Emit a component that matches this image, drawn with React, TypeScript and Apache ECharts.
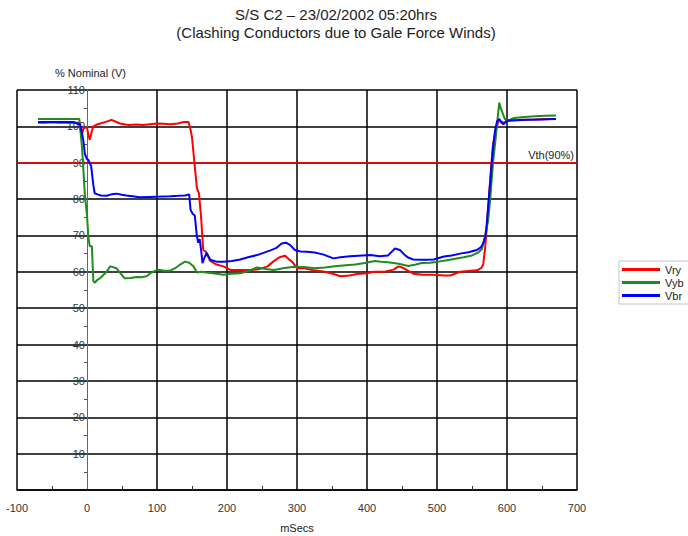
import React, { useEffect, useRef } from "react";
import * as echarts from "echarts";

const FONT = "'Liberation Sans', Arial, sans-serif";

const titleText = "S/S C2 \u2013 23/02/2002 05:20hrs";
const subtitleText = "(Clashing Conductors due to Gale Force Winds)";
const yAxisTitle = "% Nominal (V)";
const xAxisTitle = "mSecs";
const thresholdLabel = "Vth(90%)";
const thresholdValue = 90;
const seriesNames = ["Vry", "Vyb", "Vbr"];
const seriesColors = ["#ff0000", "#1e8c1e", "#0000ff"];
const xGridValues = [-100, 100, 200, 300, 400, 500, 600, 700];

// Vry (red)
const vryTimes = [
  -70, -60, -50, -40, -30, -20, -10, -8, -5, 0,
  2, 4, 7, 9, 14, 19, 28, 35, 42, 47,
  55, 61, 70, 80, 90, 100, 110, 119, 130, 138,
  145, 148, 150, 153, 157, 160, 163, 166, 170, 173,
  176, 185, 195, 205, 219, 235, 247, 258, 266, 275,
  283, 288, 293, 300, 310, 324, 340, 352, 362, 375,
  386, 400, 410, 425, 438, 445, 450, 457, 466, 480,
  495, 510, 519, 533, 545, 557, 563, 566, 569, 571,
  574, 577, 580, 584, 588, 592, 596, 600, 610, 620,
  640, 655, 670,
];
const vryValues = [
  101, 101, 101.1, 101, 101, 101, 101, 97.2, 99.5, 99.8,
  97.6, 96.3, 98.7, 100, 100.5, 100.8, 101.3, 101.8, 101.2, 100.8,
  100.5, 100.4, 100.5, 100.4, 100.6, 100.8, 100.7, 100.6, 100.8, 101.2,
  101.2, 99, 97, 91, 83, 81.5, 75, 66, 65.5, 64.2,
  63, 62, 61.5, 60.5, 60.5, 60.5, 60.8, 61.5, 62.8, 64,
  64.4, 63.5, 62.8, 61, 61, 60.4, 60, 59.4, 58.8, 59,
  59.4, 59.6, 60, 60, 60.6, 61.5, 61.2, 60.5, 59.5, 59.2,
  59.2, 59, 59, 60, 60.2, 60.4, 61, 62, 67, 72,
  80, 88, 95, 99, 101.5, 101.3, 101, 101.5, 101.7, 101.8,
  101.9, 102, 102,
];

// Vyb (green)
const vybTimes = [
  -70, -60, -50, -40, -30, -20, -11, -9, -7, -5,
  -3, 0, 2, 4, 7, 9, 11, 15, 19, 26,
  30, 33, 37, 42, 47, 54, 62, 71, 78, 85,
  92, 100, 104, 110, 119, 126, 133, 140, 146, 152,
  157, 163, 170, 180, 195, 207, 219, 230, 243, 255,
  267, 280, 296, 310, 325, 340, 354, 370, 383, 397,
  411, 420, 430, 445, 459, 470, 478, 490, 502, 514,
  526, 538, 550, 558, 564, 569, 573, 576, 580, 584,
  587, 589, 591, 594, 597, 600, 610, 625, 640, 655,
  670,
];
const vybValues = [
  102, 102, 102, 102, 102, 102, 102, 98, 94, 87.5,
  81, 75.6, 69.3, 67, 67, 57.5, 57, 57.8, 58.3, 59.6,
  60.5, 61.5, 61.3, 61, 59.8, 58.2, 58.3, 58.6, 58.5, 58.8,
  59.8, 60.5, 60.5, 60.3, 60.3, 61, 62, 62.8, 62.5, 61.5,
  59.8, 60, 59.8, 59.6, 59.2, 59.5, 59.6, 60.2, 61.2, 60.8,
  60.5, 61, 61.4, 61.3, 61, 61.2, 61.5, 61.8, 62, 62.4,
  63, 62.8, 62.6, 62.2, 61.6, 62, 62.4, 62.5, 62.8, 63.2,
  63.6, 64, 64.5, 65.2, 66.2, 70, 74, 80, 90, 97,
  103, 106.5, 105, 103.5, 102, 101.5, 102.3, 102.6, 102.8, 102.9,
  103,
];

// Vbr (blue)
const vbrTimes = [
  -70, -60, -50, -40, -30, -20, -10, -7, -5, -3,
  0, 2, 6, 9, 11, 15, 20, 28, 35, 42,
  50, 56, 65, 75, 90, 105, 119, 130, 140, 146,
  148, 151, 154, 157, 159, 161, 163, 165, 168, 171,
  176, 185, 195, 207, 219, 230, 243, 252, 262, 270,
  278, 284, 290, 297, 305, 314, 325, 337, 352, 362,
  376, 394, 405, 418, 430, 440, 447, 452, 458, 466,
  475, 485, 495, 510, 521, 533, 545, 557, 563, 566,
  569, 571, 574, 577, 580, 583, 586, 589, 592, 595,
  598, 602, 615, 630, 650, 670,
];
const vbrValues = [
  101.2, 101.2, 101.2, 101.2, 101.2, 101.2, 100.5, 98, 95.8, 92.4,
  91, 90.8, 89, 83.9, 81.6, 81.3, 81, 80.9, 81.3, 81.5,
  81.2, 81, 80.8, 80.5, 80.6, 80.7, 80.8, 80.9, 81, 81.3,
  77, 76, 75.5, 69.7, 68, 69, 66, 62.4, 64, 65.2,
  63.3, 62.8, 62.8, 63, 63.4, 64, 64.6, 65.2, 65.9, 66.5,
  67.8, 68, 67.4, 66, 65.6, 65.5, 65.3, 64.8, 63.7, 64,
  64.3, 64.5, 64.6, 64.3, 64.5, 66.4, 66, 65, 64, 63.4,
  63.3, 63.3, 63.4, 64.2, 64.5, 65, 65.4, 66, 66.8, 67.8,
  69.7, 73, 80, 87, 94, 99, 101.5, 102, 101, 100.6,
  101.2, 101.6, 101.7, 101.8, 101.9, 102,
];

const zip = (t: number[], v: number[]) => t.map((x, i) => [x, v[i]]);

export default function App() {
  const ref = useRef<HTMLDivElement>(null);

  useEffect(() => {
    if (!ref.current) return;
    const chart = echarts.init(ref.current, undefined, { renderer: "svg" });
    const seriesData = [
      zip(vryTimes, vryValues),
      zip(vybTimes, vybValues),
      zip(vbrTimes, vbrValues),
    ];
    const option: any = {
      animation: false,
      textStyle: { fontFamily: FONT },
      grid: { left: 17, right: 111, top: 90, bottom: 46, containLabel: false, outerBoundsMode: "none" },
      xAxis: {
        type: "value",
        min: -100,
        max: 700,
        interval: 100,
        axisLine: { show: true, onZero: true, lineStyle: { color: "#000", width: 1.5 } },
        axisTick: { show: false, inside: true },
        minorTick: { show: true, splitNumber: 2, length: 4, lineStyle: { color: "#333", width: 1 } },
        axisLabel: { margin: 12, fontSize: 11, color: "#333", fontFamily: FONT },
        splitLine: { show: false },
      },
      yAxis: {
        type: "value",
        min: 0,
        max: 110,
        interval: 10,
        axisLine: { show: true, onZero: true, lineStyle: { color: "#666", width: 1 } },
        axisTick: { show: false },
        minorTick: { show: true, splitNumber: 2, length: 3, lineStyle: { color: "#555", width: 1 } },
        axisLabel: {
          margin: -68,
          fontSize: 11,
          color: "#333",
          fontFamily: FONT,
          padding: [6, 0, 0, 0],
          formatter: (v: number) => (v === 0 ? "" : String(v)),
        },
        splitLine: { show: true, lineStyle: { color: "#000", width: 1.6 } },
      },
      legend: {
        data: seriesNames,
        orient: "vertical",
        left: 619,
        top: 261,
        icon: "rect",
        itemWidth: 38,
        itemHeight: 3,
        itemGap: 2,
        padding: [3, 6, 3, 3],
        borderColor: "#c4c4c4",
        borderWidth: 1,
        selectedMode: false,
        textStyle: { fontSize: 11, color: "#222", fontFamily: FONT },
      },
      graphic: [
        {
          type: "text",
          x: 336,
          y: 14,
          style: { text: titleText, fontSize: 15, fontFamily: FONT, fill: "#222", align: "center", verticalAlign: "middle" },
        },
        {
          type: "text",
          x: 336,
          y: 32,
          style: { text: subtitleText, fontSize: 15, fontFamily: FONT, fill: "#222", align: "center", verticalAlign: "middle" },
        },
        {
          type: "text",
          x: 55,
          y: 73,
          style: { text: yAxisTitle, fontSize: 11, fontFamily: FONT, fill: "#222", align: "left", verticalAlign: "middle" },
        },
        {
          type: "text",
          x: 297,
          y: 528,
          style: { text: xAxisTitle, fontSize: 11, fontFamily: FONT, fill: "#222", align: "center", verticalAlign: "middle" },
        },
      ],
      series: [
        {
          type: "line",
          name: "guides",
          data: [],
          silent: true,
          z: 1,
          markLine: {
            silent: true,
            z: 1,
            symbol: ["none", "none"],
            animation: false,
            label: { show: false },
            emphasis: { disabled: true },
            lineStyle: { color: "#000", width: 1.5, type: "solid" },
            data: [
              ...xGridValues.map((v) => ({ xAxis: v })),
              {
                yAxis: thresholdValue,
                lineStyle: { color: "#ff0000", width: 1.5, type: "solid" },
                label: {
                  show: true,
                  position: "insideEndTop",
                  formatter: thresholdLabel,
                  color: "#222",
                  fontSize: 11,
                  fontFamily: FONT,
                  distance: [3, 2],
                },
              },
            ],
          },
        },
        ...seriesNames.map((name, i) => ({
          type: "line",
          name,
          data: seriesData[i],
          showSymbol: false,
          symbol: "none",
          z: 3,
          lineStyle: { color: seriesColors[i], width: 2 },
          itemStyle: { color: seriesColors[i] },
          emphasis: { disabled: true },
        })),
      ],
    };
    chart.setOption(option);
    return () => chart.dispose();
  }, []);

  return (
    <div
      ref={ref}
      style={{ position: "fixed", left: 0, top: 0, width: 688, height: 536, background: "#fff" }}
    />
  );
}
